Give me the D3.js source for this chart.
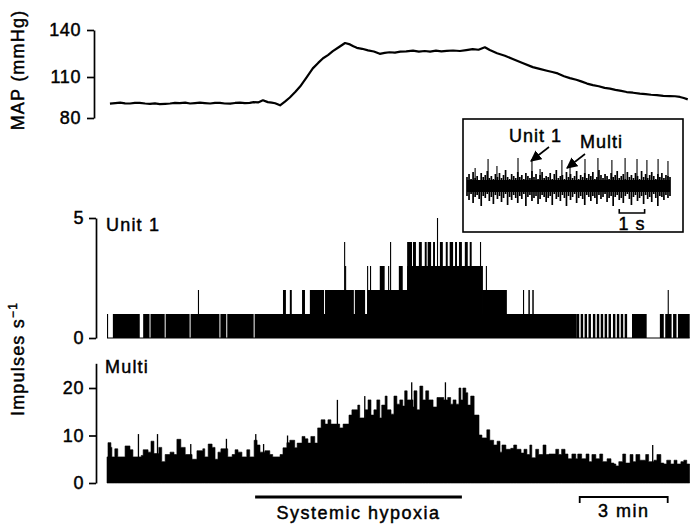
<!DOCTYPE html>
<html><head><meta charset="utf-8">
<script src="https://cdn.jsdelivr.net/npm/d3@7"></script>
<style>
body{margin:0;background:#fff}
svg{display:block}
text{font-family:"Liberation Sans",Arial,Helvetica,sans-serif;fill:#000;stroke:#000;stroke-width:0.45px}
</style>
</head><body><svg id="c" width="690" height="527"></svg>
<script>
// ---------------- DATA ----------------
// time in seconds from start of record
const mapSeries = [[6,90.5],[17,90.9],[27,91.2],[37,90.7],[47,90.6],[57,91.0],[67,91.1],[78,90.6],[88,90.4],[98,90.7],
[108,90.2],[119,90.4],[129,90.6],[139,91.0],[149,90.9],[160,91.3],[170,90.6],[180,90.9],[190,91.2],[200,90.9],
[211,90.6],[221,91.1],[231,91.0],[241,90.6],[252,90.5],[262,91.0],[272,91.3],[282,90.9],[292,91.1],[300,91.6],
[309,91.4],[319,93.0],[329,91.6],[337,91.2],[344,90.8],[354,89.3],[364,92.0],[374,95.0],[385,99.0],[395,103.0],
[408,109.5],[421,115.5],[432,119.0],[442,122.0],[452,124.0],[462,126.5],[474,129.0],[487,131.7],[497,130.8],[504,129.6],
[511,128.6],[522,128.0],[534,127.0],[546,126.3],[558,124.8],[568,125.4],[578,125.8],[589,125.6],[600,126.2],[612,126.4],
[626,126.8],[638,126.2],[650,126.6],[661,126.2],[673,126.8],[684,126.4],[695,126.7],[708,126.9],[722,126.6],[735,127.2],
[748,127.8],[760,127.4],[773,129.0],[783,127.2],[798,125.2],[814,123.6],[830,121.5],[850,119.0],[871,116.3],[885,115.2],
[900,114.0],[911,113.2],[922,112.3],[935,110.5],[947,109.2],[960,108.0],[970,106.8],[982,105.2],[994,104.1],[1006,103.2],
[1018,102.0],[1029,101.5],[1040,100.6],[1052,99.8],[1063,99.0],[1076,98.5],[1090,97.8],[1102,97.4],[1113,97.0],[1125,96.8],
[1138,96.2],[1151,96.0],[1162,95.9],[1172,95.4],[1180,94.6],[1188,93.6]];

// Unit 1 firing: [start s, end s, impulses/s]
const unitRuns = [
[0,2,1],[12,67,1],[74,87,1],[89,118,1],[120,169,1],[171,230,1],[232,244,1],[246,300,1],[302,961,1],
[961,966,1],[969,974,1],[977,982,1],[985,990,1],[994,999,1],[1002,1007,1],[1010,1015,1],[1018,1023,1],
[1026,1031,1],[1035,1040,1],[1043,1048,1],[1051,1056,1],[1059,1064,1],[1074,1104,1],[1131,1139,1],
[1142,1155,1],[1158,1165,1],[1168,1192,1],
[186,188,2],[360,366,2],[374,378,2],[399,405,2],[415,444,2],[446,505,2],[507,528,2],[532,769,2],[769,818,2],
[851,853,2],[862,865,2],[870,873,2],[1147,1149,2],
[487,489,3],[532,534,3],[538,540,3],[558,568,3],[575,577,3],[597,605,3],[614,769,3],[775,777,3],
[485,487,4],[579,581,4],[614,624,4],[626,632,4],[638,644,4],[650,654,4],[656,663,4],[667,671,4],
[681,687,4],[693,697,4],[701,708,4],[712,716,4],[720,726,4],[732,738,4],[742,746,4],[763,765,4],
[675,677,5]];

// Multi-unit envelope: [s, impulses/s]
const multiSeries = [[0,5.5],[2,8.5],[8,7.5],[10,5.5],[16,7.2],[22,5.5],[37,7.8],[47,7],[53,5.5],[70,5.8],
[74,7],[84,6.5],[90,8.8],[96,6.2],[106,7.5],[112,4.5],[119,6],[129,6.5],[137,6],[143,9.2],
[151,7.5],[160,6],[174,5],[184,6.8],[196,7.2],[200,5.5],[207,8.2],[215,7.5],[221,5],[227,6.5],
[233,7.2],[247,5.5],[256,6],[262,7],[268,6.5],[276,5.5],[286,7],[292,5.5],[301,9],[307,8],
[313,6.5],[323,6.8],[333,6],[339,5.5],[354,6],[360,7.4],[368,8.5],[374,9],[384,7.4],[389,8.4],
[399,9.8],[405,9.3],[411,8.4],[417,9.8],[425,8.4],[431,11.6],[438,13.3],[446,12.4],[452,13.3],[458,12.4],
[476,11.6],[483,12.4],[495,14.3],[501,15.4],[513,16.4],[517,13.7],[528,15.4],[534,17.5],[540,14.3],[546,15.4],
[552,17.5],[558,13.7],[562,16.4],[569,18.3],[573,15.4],[581,14.5],[587,18.3],[593,16.6],[599,17.5],[605,16.2],
[609,19.4],[614,17.5],[626,16],[628,19.4],[634,15.4],[640,20.4],[646,17.5],[652,19.4],[658,17.5],[667,16],
[675,18],[689,17.5],[697,18],[703,16.6],[708,17.5],[714,16.6],[720,20],[724,17.5],[728,20],[734,19],
[738,16.4],[744,18.3],[751,14.3],[761,10.1],[767,9.5],[777,11.2],[783,9],[791,8],[798,8.8],[804,6.5],
[808,8],[816,7.1],[826,7.3],[832,8],[838,7.1],[847,6.3],[853,7.1],[859,6],[865,8],[869,5.3],
[877,7.1],[883,6],[892,8],[898,6],[904,6.1],[918,7.1],[924,6],[930,7.1],[937,6.1],[943,5.1],
[951,6.1],[959,5.1],[963,6.1],[971,5.1],[980,6.1],[986,4.5],[992,6],[1000,5.1],[1008,6.1],[1014,4.5],
[1023,5.1],[1031,4.2],[1037,4],[1041,3.6],[1047,4.5],[1055,6.1],[1061,4.2],[1070,6],[1076,4.5],[1082,6],
[1090,4.8],[1096,4.8],[1102,6],[1108,4.5],[1119,4.8],[1125,6],[1133,4.2],[1139,4],[1145,4.8],[1153,4],
[1160,4.8],[1166,4],[1174,4.5],[1180,4.8],[1186,4],[1192,4]];
const multiSpikes = [[63,10.3],[102,10.3],[170,8.2],[243,9.3],[303,10.3],[319,8.2],[368,10],[470,17.5],
[526,18.3],[622,21.2],[691,21.2],[1115,8]];

// Inset: raw nerve recording (arbitrary units), 0.08 s columns
const insetHi = [9,12,7,14,8,10,6,13,9,11,15,8,10,7,12,9,13,8,11,16,9,7,12,10,8,14,9,11,7,13,10,8,15,9,12,7,11,14,8,10,9,13,7,12,16,8,10,11,7,14,9,12,8,10,15,7,11,9,13,8,12,10,14,7,9,16,11,8,12,10,7,13,9,11,15,8,10,12,7,14,9,11,8,13,10,7,15,9,12,8,11,14,10,7,12,9,13,8,11,10,9];
const insetLo = [-10,-14,-8,-17,-11,-9,-13,-20,-10,-12,-8,-15,-11,-18,-9,-13,-10,-16,-12,-8,-19,-11,-14,-9,-12,-17,-10,-13,-8,-20,-11,-9,-15,-12,-10,-18,-13,-9,-11,-16,-12,-10,-19,-8,-13,-11,-15,-9,-12,-20,-10,-14,-11,-8,-17,-12,-10,-13,-19,-9,-11,-15,-10,-12,-18,-9,-13,-11,-8,-16,-12,-10,-20,-11,-9,-14,-12,-17,-10,-8,-13,-19,-11,-9,-15,-12,-10,-18,-9,-13,-11,-16,-8,-12,-20,-10,-11,-14,-9,-12,-10];
const insetSpikes = [[0.32,18],[0.83,27],[1.18,20],[2.01,28],[2.56,27],[2.88,17],[3.74,26],[4.06,21],[4.65,27],[5.16,28],[5.71,26],[6.23,28],[6.70,27],[7.09,26],[7.53,27],[7.92,25]];

const mapTicks = [80,110,140];
const unitTicks = [0,5];
const multiTicks = [0,10,20];
const hypoxiaPeriod = [303,726];
const timeScaleBar = [967,1147];   // 3 min
const insetScaleBar = [6.0,7.0];   // 1 s

// ---------------- DRAW ----------------
const svg = d3.select("#c");
svg.append("rect").attr("width",690).attr("height",527).attr("fill","#fff");

const x = d3.scaleLinear().domain([0,1200]).range([107,693.6]);
const yMap = d3.scaleLinear().domain([80,110,140]).range([118,77,30]);
const yUnit = d3.scaleLinear().domain([0,5]).range([338,218]);
const yMulti = d3.scaleLinear().domain([0,25.2]).range([483,363.3]);

function styleAxis(g){
  g.attr("font-family",null).attr("font-size",null);
  g.selectAll("path,line").attr("stroke","#000").attr("stroke-width",1.7);
  g.selectAll("text").style("font-size","18px").style("letter-spacing","0.6px");
}

// MAP axis
svg.append("g").attr("transform","translate(94,0)")
  .call(d3.axisLeft(yMap).tickValues(mapTicks).tickSize(7).tickSizeOuter(0).tickPadding(6).tickFormat(d3.format("d")))
  .call(styleAxis);
svg.append("path").datum(mapSeries)
  .attr("d", d3.line().x(d=>x(d[0])).y(d=>yMap(d[1])))
  .attr("fill","none").attr("stroke","#000").attr("stroke-width",2.2).attr("stroke-linejoin","round");

// Unit 1 axis & bars
svg.append("g").attr("transform","translate(96,0)")
  .call(d3.axisLeft(yUnit).tickValues(unitTicks).tickSize(7).tickSizeOuter(0).tickPadding(5).tickFormat(d3.format("d")))
  .call(styleAxis);
svg.append("line").attr("x1",x(0)).attr("x2",x(1192)).attr("y1",yUnit(0)).attr("y2",yUnit(0))
  .attr("stroke","#000").attr("stroke-width",1);
svg.append("g").selectAll("rect").data(unitRuns).join("rect")
  .attr("x",d=>x(d[0]))
  .attr("width",d=>Math.max(1.1,x(d[1])-x(d[0])))
  .attr("y",d=>yUnit(d[2]))
  .attr("height",d=>yUnit(0)-yUnit(d[2]))
  .attr("fill","#000");

// Multi axis & area
svg.append("g").attr("transform","translate(96,0)")
  .call(d3.axisLeft(yMulti).tickValues(multiTicks).tickSize(7).tickSizeOuter(0).tickPadding(5).tickFormat(d3.format("d")))
  .call(styleAxis);
svg.append("path").datum(multiSeries)
  .attr("d", d3.area().x(d=>x(d[0])).y0(yMulti(0)).y1(d=>yMulti(d[1])).curve(d3.curveStepAfter))
  .attr("fill","#000").attr("stroke","#000").attr("stroke-width",0.6);
svg.append("g").selectAll("rect").data(multiSpikes).join("rect")
  .attr("x",d=>x(d[0])).attr("width",1.3)
  .attr("y",d=>yMulti(d[1])).attr("height",d=>yMulti(0)-yMulti(d[1]))
  .attr("fill","#000");

// labels
svg.append("text").attr("transform","translate(24,70) rotate(-90)").attr("text-anchor","middle")
  .style("font-size","18px").style("letter-spacing","1.2px").text("MAP (mmHg)");
const imp = svg.append("text").attr("transform","translate(24,359) rotate(-90)").attr("text-anchor","middle")
  .style("font-size","18px").style("letter-spacing","1.2px");
imp.append("tspan").text("Impulses s");
imp.append("tspan").attr("dy",-7).style("font-size","12px").text("\u22121");
svg.append("text").attr("x",106).attr("y",231).style("font-size","18px").style("letter-spacing","1.2px").text("Unit 1");
svg.append("text").attr("x",105).attr("y",373).style("font-size","18px").style("letter-spacing","1.2px").text("Multi");

// hypoxia bar
svg.append("line").attr("x1",x(hypoxiaPeriod[0])).attr("x2",x(hypoxiaPeriod[1])).attr("y1",497).attr("y2",497)
  .attr("stroke","#000").attr("stroke-width",3);
svg.append("text").attr("x",(x(hypoxiaPeriod[0])+x(hypoxiaPeriod[1]))/2).attr("y",519).attr("text-anchor","middle")
  .style("font-size","18px").style("letter-spacing","1.5px").text("Systemic hypoxia");

// 3 min bar
svg.append("path")
  .attr("d",`M${x(timeScaleBar[0])},503V497H${x(timeScaleBar[1])}V503`)
  .attr("fill","none").attr("stroke","#000").attr("stroke-width",1.8);
svg.append("text").attr("x",(x(timeScaleBar[0])+x(timeScaleBar[1]))/2).attr("y",517).attr("text-anchor","middle")
  .style("font-size","18px").style("letter-spacing","1.5px").text("3 min");

// ---- inset ----
const ix = d3.scaleLinear().domain([0,8]).range([467,670]);
const iy = d3.scaleLinear().domain([-30,30]).range([216,156]);
svg.append("rect").attr("x",463).attr("y",119).attr("width",220).attr("height",113)
  .attr("fill","#fff").attr("stroke","#000").attr("stroke-width",1.6);
const cols = insetHi.map((h,i)=>({t:i*0.08,h:h,l:insetLo[i]}));
svg.append("g").selectAll("line").data(cols).join("line")
  .attr("x1",d=>ix(d.t)).attr("x2",d=>ix(d.t))
  .attr("y1",d=>iy(d.l)).attr("y2",d=>iy(d.h))
  .attr("stroke","#000").attr("stroke-width",1.7);
svg.append("rect").attr("x",ix(0)).attr("y",iy(6)).attr("width",ix(8)-ix(0)).attr("height",iy(-6)-iy(6)).attr("fill","#000");
svg.append("g").selectAll("line").data(insetSpikes).join("line")
  .attr("x1",d=>ix(d[0])).attr("x2",d=>ix(d[0]))
  .attr("y1",iy(0)).attr("y2",d=>iy(d[1]))
  .attr("stroke","#000").attr("stroke-width",1.1);

const defs = svg.append("defs");
defs.append("marker").attr("id","ah").attr("viewBox","0 0 10 10").attr("refX",9).attr("refY",5)
  .attr("markerWidth",7).attr("markerHeight",7).attr("orient","auto")
  .append("path").attr("d","M0,0L10,5L0,10z").attr("fill","#000");
svg.append("line").attr("x1",549).attr("y1",147).attr("x2",531).attr("y2",161)
  .attr("stroke","#000").attr("stroke-width",1.6).attr("marker-end","url(#ah)");
svg.append("line").attr("x1",585).attr("y1",154).attr("x2",567).attr("y2",168)
  .attr("stroke","#000").attr("stroke-width",1.6).attr("marker-end","url(#ah)");
svg.append("text").attr("x",509).attr("y",142).style("font-size","18px").style("letter-spacing","1px").text("Unit 1");
svg.append("text").attr("x",580).attr("y",148).style("font-size","18px").style("letter-spacing","1px").text("Multi");

svg.append("path")
  .attr("d",`M${ix(insetScaleBar[0])},209V213H${ix(insetScaleBar[1])}V209`)
  .attr("fill","none").attr("stroke","#000").attr("stroke-width",1.6);
svg.append("text").attr("x",(ix(insetScaleBar[0])+ix(insetScaleBar[1]))/2).attr("y",230).attr("text-anchor","middle")
  .style("font-size","18px").style("letter-spacing","1px").text("1 s");
</script>
</body></html>
